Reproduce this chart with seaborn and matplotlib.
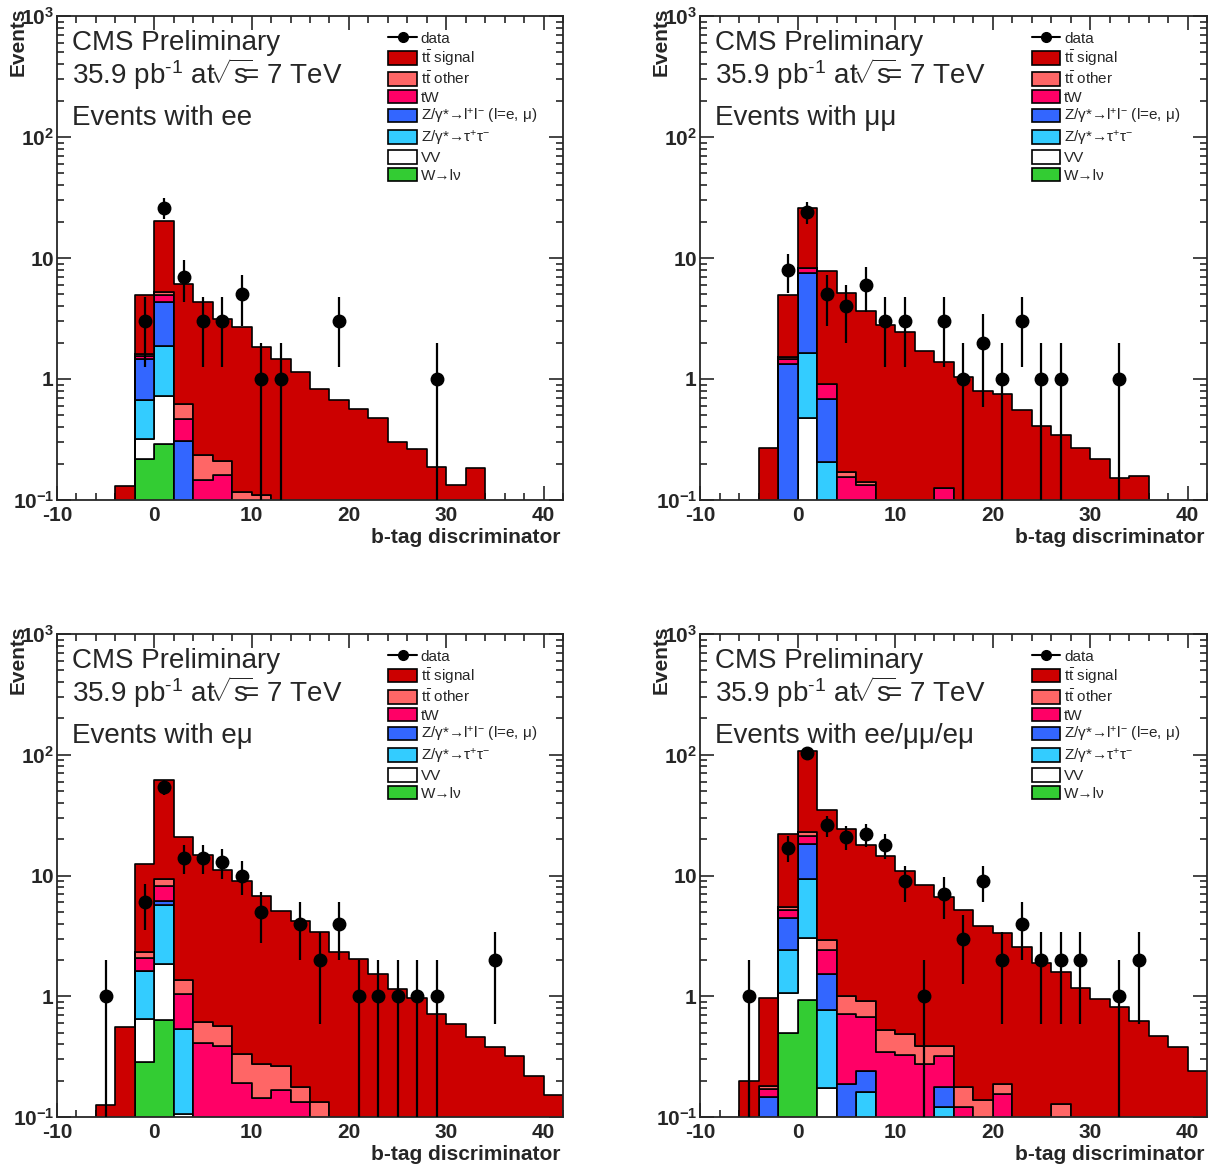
import numpy as np
import pandas as pd
import matplotlib
matplotlib.use("Agg")
import matplotlib.pyplot as plt
from matplotlib.patches import Patch
from matplotlib.lines import Line2D
from matplotlib.ticker import MultipleLocator, LogLocator, NullFormatter
import seaborn as sns

sns.set_style("ticks")
plt.rcParams["font.family"] = ["Liberation Sans", "DejaVu Sans"]
plt.rcParams["mathtext.fontset"] = "custom"
plt.rcParams["mathtext.rm"] = "Liberation Sans"
plt.rcParams["mathtext.it"] = "Liberation Sans:italic"
plt.rcParams["mathtext.bf"] = "Liberation Sans:bold"

# Binning of the b-tag discriminator: 26 bins of width 2 from -10 to 42
bin_edges = np.arange(-10, 44, 2)
bin_centers = bin_edges[:-1] + 1

# ---------------- ee channel ----------------
ee_tt_signal = [0, 0, 0, 0.13, 3.3, 15.0, 5.48, 4.07, 2.92, 2.58, 1.72, 1.46, 1.14, 0.83,
                0.67, 0.565, 0.48, 0.30, 0.264, 0.186, 0.133, 0.183, 0, 0, 0, 0]
ee_tt_other = [0, 0, 0, 0, 0.05, 0.36, 0.15, 0.088, 0.05, 0.117, 0.109, 0, 0, 0,
               0, 0, 0, 0, 0, 0, 0, 0, 0, 0, 0, 0]
ee_tw = [0, 0, 0, 0, 0.09, 0.6, 0.165, 0.147, 0.161, 0, 0, 0, 0, 0,
         0, 0, 0, 0, 0, 0, 0, 0, 0, 0, 0, 0]
ee_z_ll = [0, 0, 0, 0, 0.79, 2.42, 0.305, 0, 0, 0, 0, 0, 0, 0,
           0, 0, 0, 0, 0, 0, 0, 0, 0, 0, 0, 0]
ee_z_tautau = [0, 0, 0, 0, 0.35, 1.16, 0, 0, 0, 0, 0, 0, 0, 0,
               0, 0, 0, 0, 0, 0, 0, 0, 0, 0, 0, 0]
ee_vv = [0, 0, 0, 0, 0.10, 0.43, 0, 0, 0, 0, 0, 0, 0, 0,
         0, 0, 0, 0, 0, 0, 0, 0, 0, 0, 0, 0]
ee_w_lnu = [0, 0, 0, 0, 0.22, 0.29, 0, 0, 0, 0, 0, 0, 0, 0,
            0, 0, 0, 0, 0, 0, 0, 0, 0, 0, 0, 0]
ee_data = [0, 0, 0, 0, 3, 26, 7, 3, 3, 5, 1, 1, 0, 0,
           3, 0, 0, 0, 0, 1, 0, 0, 0, 0, 0, 0]

# ---------------- mumu channel ----------------
mm_tt_signal = [0, 0, 0, 0.27, 3.39, 17.7, 6.94, 4.93, 3.53, 2.81, 2.43, 1.71, 1.26, 1.03,
                0.80, 0.75, 0.557, 0.41, 0.344, 0.269, 0.218, 0.152, 0.157, 0, 0, 0]
mm_tt_other = [0, 0, 0, 0, 0.05, 0, 0, 0.013, 0.008, 0, 0, 0, 0, 0,
               0, 0, 0, 0, 0, 0, 0, 0, 0, 0, 0, 0]
mm_tw = [0, 0, 0, 0, 0.13, 0.7, 0.23, 0.156, 0.133, 0, 0, 0, 0.126, 0,
         0, 0, 0, 0, 0, 0, 0, 0, 0, 0, 0, 0]
mm_z_ll = [0, 0, 0, 0, 1.33, 5.86, 0.475, 0, 0, 0, 0, 0, 0, 0,
           0, 0, 0, 0, 0, 0, 0, 0, 0, 0, 0, 0]
mm_z_tautau = [0, 0, 0, 0, 0, 1.165, 0.205, 0, 0, 0, 0, 0, 0, 0,
               0, 0, 0, 0, 0, 0, 0, 0, 0, 0, 0, 0]
mm_vv = [0, 0, 0, 0, 0, 0.475, 0, 0, 0, 0, 0, 0, 0, 0,
         0, 0, 0, 0, 0, 0, 0, 0, 0, 0, 0, 0]
mm_w_lnu = [0] * 26
mm_data = [0, 0, 0, 0, 8, 24, 5, 4, 6, 3, 3, 0, 3, 1,
           2, 1, 3, 1, 1, 0, 0, 1, 0, 0, 0, 0]

# ---------------- emu channel ----------------
em_tt_signal = [0, 0, 0.126, 0.56, 10.2, 51.9, 19.5, 14.1, 10.5, 8.67, 6.43, 4.84, 4.02, 3.27,
                2.32, 2.02, 1.52, 1.14, 0.96, 0.71, 0.59, 0.46, 0.377, 0.318, 0.22, 0.153]
em_tt_other = [0, 0, 0, 0, 0.27, 1.2, 0.32, 0.2, 0.186, 0.14, 0.131, 0.097, 0.044, 0.134,
               0, 0, 0, 0, 0, 0, 0, 0, 0, 0, 0, 0]
em_tw = [0, 0, 0, 0, 0.43, 2.1, 0.5, 0.41, 0.384, 0.19, 0.143, 0.168, 0.134, 0,
         0, 0, 0, 0, 0, 0, 0, 0, 0, 0, 0, 0]
em_z_ll = [0, 0, 0, 0, 0.01, 0.4, 0, 0, 0, 0, 0, 0, 0, 0,
           0, 0, 0, 0, 0, 0, 0, 0, 0, 0, 0, 0]
em_z_tautau = [0, 0, 0, 0, 0.97, 3.86, 0.435, 0, 0, 0, 0, 0, 0, 0,
               0, 0, 0, 0, 0, 0, 0, 0, 0, 0, 0, 0]
em_vv = [0, 0, 0, 0, 0.367, 1.21, 0.105, 0, 0, 0, 0, 0, 0, 0,
         0, 0, 0, 0, 0, 0, 0, 0, 0, 0, 0, 0]
em_w_lnu = [0, 0, 0, 0, 0.283, 0.634, 0, 0, 0, 0, 0, 0, 0, 0,
            0, 0, 0, 0, 0, 0, 0, 0, 0, 0, 0, 0]
em_data = [0, 0, 1, 0, 6, 54, 14, 14, 13, 10, 5, 0, 4, 2,
           4, 1, 1, 1, 1, 1, 0, 0, 2, 0, 0, 0]

# ---------------- all channels ----------------
all_tt_signal = [0, 0, 0.197, 0.78, 16.6, 85.0, 32.2, 23.3, 17.1, 14.07, 10.5, 7.9, 6.3, 5.02,
                 3.67, 3.17, 2.57, 1.87, 1.46, 1.18, 0.94, 0.81, 0.625, 0.47, 0.377, 0.24]
all_tt_other = [0, 0, 0, 0.01, 0.30, 1.7, 0.52, 0.29, 0.243, 0.187, 0.16, 0.114, 0.067, 0.056,
                0.139, 0.032, 0, 0, 0.128, 0, 0, 0, 0, 0, 0, 0]
all_tw = [0, 0, 0, 0.023, 0.70, 2.7, 0.88, 0.523, 0.427, 0.343, 0.325, 0.274, 0.145, 0.122,
          0, 0.155, 0, 0, 0, 0, 0, 0, 0, 0, 0, 0]
all_z_ll = [0, 0, 0, 0.147, 2.07, 9.1, 0.75, 0.187, 0.08, 0, 0, 0, 0.054, 0,
            0, 0, 0, 0, 0, 0, 0, 0, 0, 0, 0, 0]
all_z_tautau = [0, 0, 0, 0, 1.33, 6.25, 0.597, 0, 0.16, 0, 0, 0, 0.122, 0,
                0, 0, 0, 0, 0, 0, 0, 0, 0, 0, 0, 0]
all_vv = [0, 0, 0, 0, 0.57, 2.12, 0.173, 0, 0, 0, 0, 0, 0, 0,
          0, 0, 0, 0, 0, 0, 0, 0, 0, 0, 0, 0]
all_w_lnu = [0, 0, 0, 0, 0.50, 0.93, 0, 0, 0, 0, 0, 0, 0, 0,
             0, 0, 0, 0, 0, 0, 0, 0, 0, 0, 0, 0]
all_data = [0, 0, 1, 0, 17, 104, 26, 21, 22, 18, 9, 1, 7, 3,
            9, 2, 4, 2, 2, 2, 0, 1, 2, 0, 0, 0]

# Stack order from top to bottom (also the legend order)
process_order = ["tt_signal", "tt_other", "tW", "Z_ll", "Z_tautau", "VV", "W_lnu"]
process_labels = {
    "tt_signal": r"$\mathrm{t\bar{t}}$ signal",
    "tt_other": r"$\mathrm{t\bar{t}}$ other",
    "tW": "tW",
    "Z_ll": r"Z/γ*→l$^{+}$l$^{-}$ (l=e, μ)",
    "Z_tautau": r"Z/γ*→τ$^{+}$τ$^{-}$",
    "VV": "VV",
    "W_lnu": "W→lν",
}
process_colors = {
    "tt_signal": "#cc0000",
    "tt_other": "#ff6666",
    "tW": "#ff0066",
    "Z_ll": "#3366ff",
    "Z_tautau": "#33ccff",
    "VV": "#ffffff",
    "W_lnu": "#33cc33",
}

channels = [
    ("Events with ee",
     [ee_tt_signal, ee_tt_other, ee_tw, ee_z_ll, ee_z_tautau, ee_vv, ee_w_lnu], ee_data),
    ("Events with μμ",
     [mm_tt_signal, mm_tt_other, mm_tw, mm_z_ll, mm_z_tautau, mm_vv, mm_w_lnu], mm_data),
    ("Events with eμ",
     [em_tt_signal, em_tt_other, em_tw, em_z_ll, em_z_tautau, em_vv, em_w_lnu], em_data),
    ("Events with ee/μμ/eμ",
     [all_tt_signal, all_tt_other, all_tw, all_z_ll, all_z_tautau, all_vv, all_w_lnu], all_data),
]

W_PX, H_PX = 1216, 1171
fig = plt.figure(figsize=(W_PX / 100, H_PX / 100), dpi=100)

# axes boxes in pixels: left, right, top, bottom
boxes = [(57, 563, 16, 500), (700, 1207, 16, 500),
         (57, 563, 634, 1117), (700, 1207, 634, 1117)]

lw_hist = 1.2


def draw_channel(ax, title, stack, data):
    frames = []
    for proc, vals in zip(process_order, stack):
        frames.append(pd.DataFrame({"x": bin_centers, "w": np.asarray(vals, float),
                                    "process": proc}))
    df = pd.concat(frames, ignore_index=True)
    sns.histplot(data=df, x="x", weights="w", hue="process", hue_order=process_order,
                 palette=process_colors, multiple="stack", element="step", fill=True,
                 bins=[float(e) for e in bin_edges], alpha=1, edgecolor="black",
                 linewidth=lw_hist, legend=False, ax=ax)

    data = np.asarray(data, float)
    m = data > 0
    ax.errorbar(bin_centers[m], data[m], yerr=np.sqrt(data[m]), fmt="o", color="black",
                ms=9, elinewidth=1.6, capsize=0, zorder=6)

    ax.set_yscale("log")
    ax.set_xlim(-10, 42)
    ax.set_ylim(0.1, 1000)

    # axis ticks
    ax.set_xticks([-10, 0, 10, 20, 30, 40], ["-10", "0", "10", "20", "30", "40"],
                  fontsize=15, fontweight="bold")
    ax.xaxis.set_minor_locator(MultipleLocator(2))
    ax.set_yticks([0.1, 1, 10, 100, 1000],
                  [r"$\mathbf{10^{-1}}$", r"$\mathbf{1}$", r"$\mathbf{10}$",
                   r"$\mathbf{10^{2}}$", r"$\mathbf{10^{3}}$"], fontsize=15)
    ax.yaxis.set_minor_locator(LogLocator(base=10, subs=np.arange(2, 10)))
    ax.yaxis.set_minor_formatter(NullFormatter())
    ax.tick_params(which="both", direction="in", top=True, right=True, width=1.2)
    ax.tick_params(which="major", length=10)
    ax.tick_params(which="minor", length=5)
    ax.tick_params(axis="x", which="major", pad=4)
    ax.tick_params(axis="y", which="major", pad=2)
    for sp in ax.spines.values():
        sp.set_linewidth(1.3)
        sp.set_visible(True)

    ax.set_xlabel("b-tag discriminator", fontsize=15, fontweight="bold", loc="right")
    ax.xaxis.set_label_coords(0.996, -0.078)
    ax.xaxis.label.set_va("center")
    ax.set_ylabel("Events", fontsize=15, fontweight="bold", loc="top")
    ax.yaxis.set_label_coords(-0.077, 1.017)
    ax.yaxis.label.set_va("center")

    ax.text(0.03, 0.930, "CMS Preliminary", transform=ax.transAxes, fontsize=20,
            va="baseline", ha="left")
    ax.text(0.03, 0.8595, r"35.9 pb$^{\text{-}1}$ at$\!\sqrt{\mathrm{s}}\!\!$= 7 TeV",
            transform=ax.transAxes, fontsize=20, va="baseline", ha="left")
    ax.text(0.03, 0.775, title, transform=ax.transAxes, fontsize=20,
            va="baseline", ha="left")

    handles = [Line2D([0], [0], color="black", lw=1.5, marker="o", ms=7)]
    labels = ["data"]
    for proc in process_order:
        handles.append(Patch(facecolor=process_colors[proc], edgecolor="black",
                             linewidth=1.2))
        labels.append(process_labels[proc])
    ax.legend(handles, labels, loc="upper left", bbox_to_anchor=(0.655, 0.970),
              frameon=False, fontsize=11, handlelength=1.85, handleheight=1.0,
              handletextpad=0.25, labelspacing=0.16, borderpad=0, borderaxespad=0)


for (l, r, t, b), (title, stack, data) in zip(boxes, channels):
    ax = fig.add_axes([l / W_PX, (H_PX - b) / H_PX, (r - l) / W_PX, (b - t) / H_PX])
    draw_channel(ax, title, stack, data)

fig.savefig("out.png", dpi=100, facecolor="white")
